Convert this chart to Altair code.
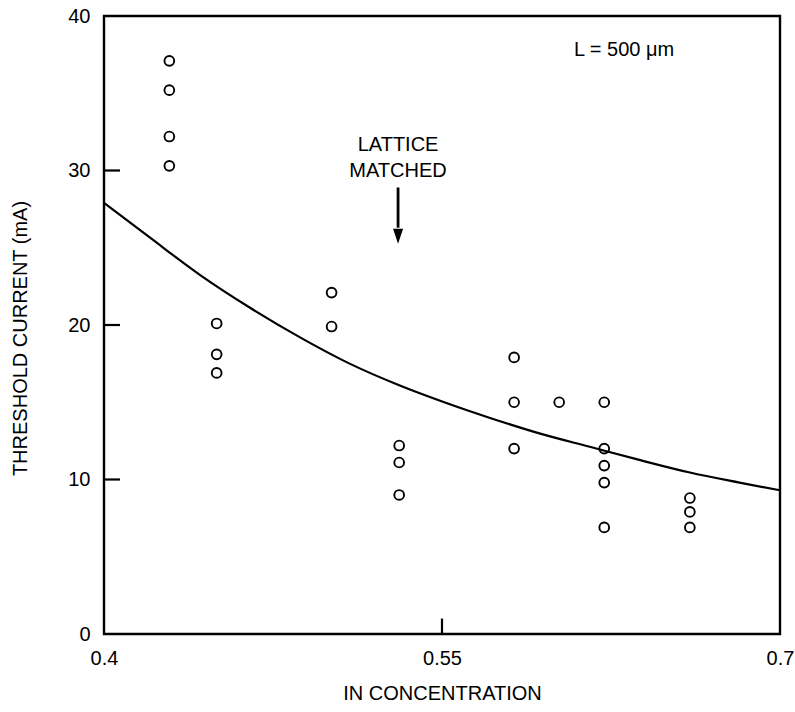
import altair as alt
import pandas as pd

# measured points
pt_x = [0.429, 0.429, 0.429, 0.429,
        0.450, 0.450, 0.450,
        0.501, 0.501,
        0.531, 0.531, 0.531,
        0.582, 0.582, 0.582,
        0.602,
        0.622, 0.622, 0.622, 0.622, 0.622,
        0.660, 0.660, 0.660]
pt_y = [37.1, 35.2, 32.2, 30.3,
        20.1, 18.1, 16.9,
        22.1, 19.9,
        12.2, 11.1, 9.0,
        17.9, 15.0, 12.0,
        15.0,
        15.0, 12.0, 10.9, 9.8, 6.9,
        8.8, 7.9, 6.9]

# fitted curve
cv_x = [0.400, 0.420, 0.443, 0.465, 0.487, 0.509, 0.531, 0.551, 0.571, 0.594, 0.616, 0.638, 0.660, 0.682, 0.700]
cv_y = [27.9, 25.7, 23.2, 21.1, 19.2, 17.5, 16.1, 15.0, 14.0, 12.95, 12.1, 11.25, 10.45, 9.8, 9.3]

y_ticks = [10, 20, 30]
x_ticks = [0.55]

FONT = "Liberation Sans"
FS = 20

pts = pd.DataFrame({"x": pt_x, "y": pt_y})
cv = pd.DataFrame({"x": cv_x, "y": cv_y})

xs = alt.Scale(domain=[0.4, 0.7], nice=False, zero=False)
ys = alt.Scale(domain=[0, 40], nice=False)

xax = alt.Axis(values=[0.4, 0.55, 0.7],
               labelExpr="datum.value == 0.4 ? '0.4' : datum.value == 0.7 ? '0.7' : '0.55'",
               domain=False, ticks=False, grid=False, labelFont=FONT, labelFontSize=FS,
               labelColor="black", labelPadding=14, labelFlush=False,
               title="IN CONCENTRATION", titleFont=FONT,
               titleFontSize=FS, titleFontWeight="normal", titleColor="black",
               titleX=338, titleY=59, titleBaseline="middle", titleAlign="center")
yax = alt.Axis(values=[0, 10, 20, 30, 40], domain=False, ticks=False, grid=False,
               labelFont=FONT, labelFontSize=FS, labelColor="black", labelPadding=14,
               title="THRESHOLD CURRENT (mA)", titleFont=FONT, titleFontSize=FS,
               titleFontWeight="normal", titleColor="black", titleX=-84, titleY=322,
               titleAngle=-90, titleBaseline="middle", titleAlign="center")

base_pts = alt.Chart(pts).mark_point(shape="circle", filled=False, color="black",
                                     size=95, strokeWidth=1.9, opacity=1).encode(
    x=alt.X("x:Q", scale=xs, axis=xax),
    y=alt.Y("y:Q", scale=ys, axis=yax),
)

curve = alt.Chart(cv).mark_line(color="black", strokeWidth=2.2, interpolate="monotone").encode(
    x=alt.X("x:Q", scale=xs), y=alt.Y("y:Q", scale=ys))

yt = pd.DataFrame({"y": y_ticks, "x": [0.4] * 3, "x2": [0.4071] * 3})
ytick = alt.Chart(yt).mark_rule(color="black", strokeWidth=2.2).encode(
    x=alt.X("x:Q", scale=xs), x2="x2:Q", y=alt.Y("y:Q", scale=ys))

xt = pd.DataFrame({"x": x_ticks, "y": [0], "y2": [1.0]})
xtick = alt.Chart(xt).mark_rule(color="black", strokeWidth=2.2).encode(
    x=alt.X("x:Q", scale=xs), y=alt.Y("y:Q", scale=ys), y2="y2:Q")

labels = pd.DataFrame({"x": [0.5305, 0.5305, 0.6308], "y": [31.65, 30.0, 37.8],
                       "t": ["LATTICE", "MATCHED", "L = 500 \u03bcm"]})
txt = alt.Chart(labels).mark_text(font=FONT, fontSize=FS, color="black", baseline="middle").encode(
    x=alt.X("x:Q", scale=xs), y=alt.Y("y:Q", scale=ys), text="t:N")

arr = pd.DataFrame({"x": [0.5305], "y": [28.9], "y2": [26.3]})
shaft = alt.Chart(arr).mark_rule(color="black", strokeWidth=2.8).encode(
    x=alt.X("x:Q", scale=xs), y=alt.Y("y:Q", scale=ys), y2="y2:Q")
head = pd.DataFrame({"x": [0.5305], "y": [25.75]})
arrowhead = alt.Chart(head).mark_point(shape="M-0.67,-1L0.67,-1L0,1Z", filled=True, color="black",
                                       size=225, opacity=1).encode(
    x=alt.X("x:Q", scale=xs), y=alt.Y("y:Q", scale=ys))

chart = alt.layer(base_pts, curve, ytick, xtick, txt, shaft, arrowhead).properties(
    width=676, height=618,
    autosize=alt.AutoSizeParams(type="none"),
    padding={"left": 104, "top": 16, "right": 15, "bottom": 78},
    background="white",
).configure_view(stroke="black", strokeWidth=2.4)

chart.save("out.html", embed_options={"renderer": "svg", "actions": False})
